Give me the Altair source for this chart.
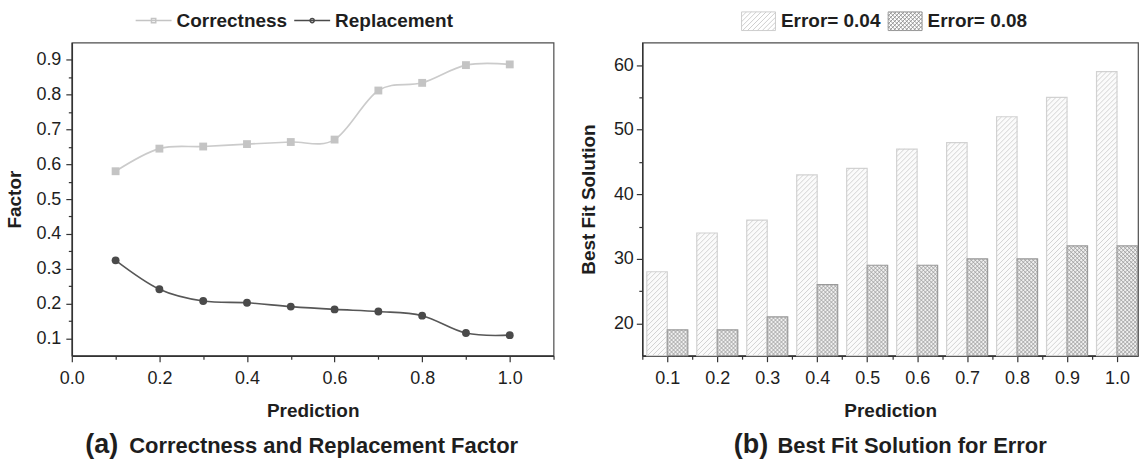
import altair as alt
import pandas as pd

FONT = "Liberation Sans"
INK = "#1e1e1e"

# ---------------- panel (a) data ----------------
PRED = [0.1, 0.2, 0.3, 0.4, 0.5, 0.6, 0.7, 0.8, 0.9, 1.0]
CORRECTNESS = [0.580, 0.645, 0.651, 0.658, 0.664, 0.671, 0.812, 0.834, 0.885, 0.887]
REPLACEMENT = [0.324, 0.241, 0.207, 0.202, 0.191, 0.183, 0.177, 0.165, 0.115, 0.109]
SERIES_A = ["Correctness", "Replacement"]
A_X_TICKS = [0.0, 0.1, 0.2, 0.3, 0.4, 0.5, 0.6, 0.7, 0.8, 0.9, 1.0, 1.1]
A_Y_TICKS = [0.1, 0.15, 0.2, 0.25, 0.3, 0.35, 0.4, 0.45, 0.5, 0.55, 0.6, 0.65, 0.7,
             0.75, 0.8, 0.85, 0.9]

# ---------------- panel (b) data ----------------
ERR_004 = [28, 34, 36, 43, 44, 47, 48, 52, 55, 59]
ERR_008 = [19, 19, 21, 26, 29, 29, 30, 30, 32, 32]
SERIES_B = ["Error= 0.04", "Error= 0.08"]
B_X_TICKS = [0.05, 0.1, 0.15, 0.2, 0.25, 0.3, 0.35, 0.4, 0.45, 0.5, 0.55, 0.6, 0.65,
             0.7, 0.75, 0.8, 0.85, 0.9, 0.95, 1.0]
B_Y_TICKS = [20, 25, 30, 35, 40, 45, 50, 55, 60]

# ---------------- layout / style ----------------
A_W, A_H = 483, 314
B_W, B_H = 497, 314
A_XDOM, A_YDOM = [0.0, 1.1], [0.05, 0.95]
B_XDOM, B_YDOM = [0.05, 1.042], [15, 63.5]
BW = 0.041                      # bar width in prediction units
SX = B_W / (B_XDOM[1] - B_XDOM[0])   # px per x unit (right panel)
SY = B_H / (B_YDOM[1] - B_YDOM[0])   # px per y unit (right panel)
Y0 = B_YDOM[0]

df_a = pd.DataFrame({
    "Prediction": PRED + PRED,
    "Factor": CORRECTNESS + REPLACEMENT,
    "series": [SERIES_A[0]] * len(PRED) + [SERIES_A[1]] * len(PRED),
})
df_b = pd.DataFrame({
    "Prediction": PRED + PRED,
    "value": ERR_004 + ERR_008,
    "series": [SERIES_B[0]] * len(PRED) + [SERIES_B[1]] * len(PRED),
})


def tick_cond(test, major=6, minor=3.5):
    return {"condition": {"test": test, "value": major}, "value": minor}


# ---------------- panel (a) ----------------
a_xtest = "round(datum.value*10) % 2 === 0"
a_ytest = "round(datum.value*100) % 10 === 0"
ax_a = alt.X("Prediction:Q", scale=alt.Scale(domain=A_XDOM, nice=False, zero=False),
             axis=alt.Axis(values=A_X_TICKS, format=".1f", title="Prediction",
                           labelExpr=f"{a_xtest} ? datum.label : ''",
                           tickSize=tick_cond(a_xtest), titlePadding=14, labelPadding=8))
ay_a = alt.Y("Factor:Q", scale=alt.Scale(domain=A_YDOM, nice=False, zero=False),
             axis=alt.Axis(values=A_Y_TICKS, format=".1f", title="Factor",
                           labelExpr=f"{a_ytest} ? datum.label : ''",
                           tickSize=tick_cond(a_ytest), titlePadding=11, labelPadding=5))

line_colors = ["#cbcbcb", "#575757"]
mark_colors = ["#c4c4c4", "#4a4a4a"]

line_c = alt.Chart(df_a).transform_filter(alt.datum.series == SERIES_A[0]).mark_line(
    interpolate="cardinal", strokeWidth=1.6, color=line_colors[0]).encode(x=ax_a, y=ay_a)
line_r = alt.Chart(df_a).transform_filter(alt.datum.series == SERIES_A[1]).mark_line(
    interpolate="cardinal", strokeWidth=1.6, color=line_colors[1]).encode(x=ax_a, y=ay_a)
squares = alt.Chart(df_a).transform_filter(alt.datum.series == SERIES_A[0]).mark_square(
    size=62, color=mark_colors[0], opacity=1).encode(x=ax_a, y=ay_a)
circles = alt.Chart(df_a).transform_filter(alt.datum.series == SERIES_A[1]).mark_circle(
    size=62, color=mark_colors[1], opacity=1).encode(x=ax_a, y=ay_a)

PATH_SQ = "M-1,0L1,0M-0.12,-0.12L0.12,-0.12L0.12,0.12L-0.12,0.12Z"
PATH_CI = "M-1,0L1,0M-0.12,0A0.12,0.12,0,1,0,0.12,0A0.12,0.12,0,1,0,-0.12,0Z"
leg_a = alt.Legend(title=None, orient="none", legendX=63, legendY=-41, direction="horizontal",
                   symbolSize=1296, symbolStrokeWidth=1.5, labelFontSize=19,
                   labelFontWeight="bold", labelFont=FONT, labelColor=INK, labelOffset=4,
                   columnPadding=4, padding=0, labelLimit=0)
legend_a = alt.Chart(df_a).mark_point(opacity=0, filled=True).encode(
    x=ax_a, y=ay_a,
    shape=alt.Shape("series:N", scale=alt.Scale(domain=SERIES_A, range=[PATH_SQ, PATH_CI]), legend=leg_a),
    fill=alt.Fill("series:N", scale=alt.Scale(domain=SERIES_A, range=mark_colors), legend=leg_a),
    stroke=alt.Stroke("series:N", scale=alt.Scale(domain=SERIES_A, range=mark_colors), legend=leg_a),
)
tag_a = alt.Chart(pd.DataFrame({"t": ["(a)"]})).mark_text(
    fontSize=27, fontWeight="bold", font=FONT, color=INK, align="center", baseline="middle"
).encode(x=alt.value(30), y=alt.value(404), text="t:N")

left = alt.layer(legend_a, line_c, line_r, squares, circles, tag_a).properties(
    width=A_W, height=A_H,
    title=alt.TitleParams("Correctness and Replacement Factor", orient="bottom", anchor="middle",
                          dx=11, offset=-22, fontSize=22, fontWeight="bold", font=FONT, color=INK),
)

# ---------------- panel (b) ----------------
b_xtest = "round(datum.value*100) % 10 === 0"
b_ytest = "datum.value % 10 === 0"
b_xscale = alt.Scale(domain=B_XDOM, nice=False, zero=False)
b_yscale = alt.Scale(domain=B_YDOM, nice=False, zero=False)
b_xaxis = alt.Axis(values=B_X_TICKS, format=".1f", title="Prediction",
                   labelExpr=f"{b_xtest} ? datum.label : ''",
                   tickSize=tick_cond(b_xtest), titlePadding=14, labelPadding=8)
b_yaxis = alt.Axis(values=B_Y_TICKS, format="d", title="Best Fit Solution",
                   labelExpr=f"{b_ytest} ? datum.label : ''",
                   tickSize=tick_cond(b_ytest), titlePadding=15, labelPadding=3)

FILL_B = ["#fbfbfb", "#efefef"]
STROKE_B = ["#d2d2d2", "#999999"]
HATCH_B = ["#cbcbcb", "#9c9c9c"]
is_004 = alt.datum.series == SERIES_B[0]

base_b = alt.Chart(df_b).transform_calculate(
    x0=f"datum.series === '{SERIES_B[0]}' ? datum.Prediction - {BW} : datum.Prediction",
    x1=f"datum.x0 + {BW}",
)

bars = base_b.mark_rect(strokeWidth=1.2).encode(
    x=alt.X("x0:Q", scale=b_xscale, axis=b_xaxis),
    x2=alt.X2("x1"),
    y=alt.Y("value:Q", scale=b_yscale, axis=b_yaxis),
    y2=alt.Y2Datum(Y0),
    fill=alt.condition(is_004, alt.value(FILL_B[0]), alt.value(FILL_B[1])),
    stroke=alt.condition(is_004, alt.value(STROKE_B[0]), alt.value(STROKE_B[1])),
)

hatch = base_b.transform_calculate(
    W=f"(datum.x1 - datum.x0) * {SX}",
    H=f"(datum.value - {Y0}) * {SY}",
    gap=f"datum.series === '{SERIES_B[0]}' ? 5 : 4",
    dirs=f"datum.series === '{SERIES_B[0]}' ? [1] : [1, -1]",
).transform_flatten(["dirs"]).transform_calculate(
    k="sequence(1, ceil((datum.W + datum.H) / datum.gap))"
).transform_flatten(["k"]).transform_calculate(
    c="datum.dirs === 1 ? datum.k * datum.gap - datum.W : datum.k * datum.gap",
    ps="datum.dirs === 1 ? max(0, -datum.c) : max(0, datum.c - datum.H)",
    pe="datum.dirs === 1 ? min(datum.W, datum.H - datum.c) : min(datum.W, datum.c)",
    pys="datum.dirs === 1 ? datum.ps + datum.c : datum.c - datum.ps",
    pye="datum.dirs === 1 ? datum.pe + datum.c : datum.c - datum.pe",
    hx1=f"datum.x0 + datum.ps / {SX}",
    hx2=f"datum.x0 + datum.pe / {SX}",
    hy1=f"{Y0} + datum.pys / {SY}",
    hy2=f"{Y0} + datum.pye / {SY}",
).transform_filter("datum.pe - datum.ps > 0.5").mark_rule(strokeWidth=0.85).encode(
    x=alt.X("hx1:Q", scale=b_xscale, axis=b_xaxis),
    x2=alt.X2("hx2"),
    y=alt.Y("hy1:Q", scale=b_yscale, axis=b_yaxis),
    y2=alt.Y2("hy2"),
    stroke=alt.condition(is_004, alt.value(HATCH_B[0]), alt.value(HATCH_B[1])),
)


def swatch_path(h, step, dirs):
    parts = [f"M-1,{-h}L1,{-h}L1,{h}L-1,{h}Z"]
    for d in dirs:
        t = -1 - h + step
        while t < 1 + h:
            xs, xe = max(-1, t - h), min(1, t + h)
            if d == 1:
                ys, ye = t - xs, t - xe
            else:
                ys, ye = xs - t, xe - t
            if xe - xs > 0.02:
                parts.append(f"M{xs:.3f},{ys:.3f}L{xe:.3f},{ye:.3f}")
            t += step
    return "".join(parts)


SW_004 = swatch_path(0.55, 0.29, [1])
SW_008 = swatch_path(0.55, 0.235, [1, -1])
leg_b = alt.Legend(title=None, orient="none", legendX=99, legendY=-39, direction="horizontal",
                   symbolSize=1156, symbolStrokeWidth=0.9, labelFontSize=19,
                   labelFontWeight="bold", labelFont=FONT, labelColor=INK, labelOffset=5,
                   columnPadding=5, padding=0, labelLimit=0)
legend_b = alt.Chart(df_b).mark_point(opacity=0, filled=True).encode(
    x=alt.X("Prediction:Q", scale=b_xscale, axis=b_xaxis),
    y=alt.Y("value:Q", scale=b_yscale, axis=b_yaxis),
    shape=alt.Shape("series:N", scale=alt.Scale(domain=SERIES_B, range=[SW_004, SW_008]), legend=leg_b),
    fill=alt.Fill("series:N", scale=alt.Scale(domain=SERIES_B, range=FILL_B), legend=leg_b),
    stroke=alt.Stroke("series:N", scale=alt.Scale(domain=SERIES_B, range=["#c8c8c8", "#8f8f8f"]), legend=leg_b),
)
tag_b = alt.Chart(pd.DataFrame({"t": ["(b)"]})).mark_text(
    fontSize=27, fontWeight="bold", font=FONT, color=INK, align="center", baseline="middle"
).encode(x=alt.value(109), y=alt.value(404), text="t:N")

right = alt.layer(legend_b, bars, hatch, tag_b).properties(
    width=B_W, height=B_H,
    title=alt.TitleParams("Best Fit Solution for Error", orient="bottom", anchor="middle",
                          dx=22, offset=-22, fontSize=22, fontWeight="bold", font=FONT, color=INK),
)

chart = alt.hconcat(left, right, spacing=23).resolve_scale(
    fill="independent", stroke="independent", shape="independent"
).properties(
    padding={"left": 5, "top": 0, "right": 0, "bottom": 0}, background="white"
).configure_view(
    stroke="#4d4d4d", strokeWidth=1.2
).configure_axis(
    domainColor="#333333", domainWidth=1.5, tickColor="#333333", tickWidth=1.2,
    labelFont=FONT, labelFontSize=18, labelColor=INK, labelFlush=False, labelOverlap=False,
    titleFont=FONT, titleFontSize=19, titleFontWeight="bold", titleColor=INK, grid=False,
)

chart.save("out.html", embed_options={"renderer": "svg", "actions": False})
